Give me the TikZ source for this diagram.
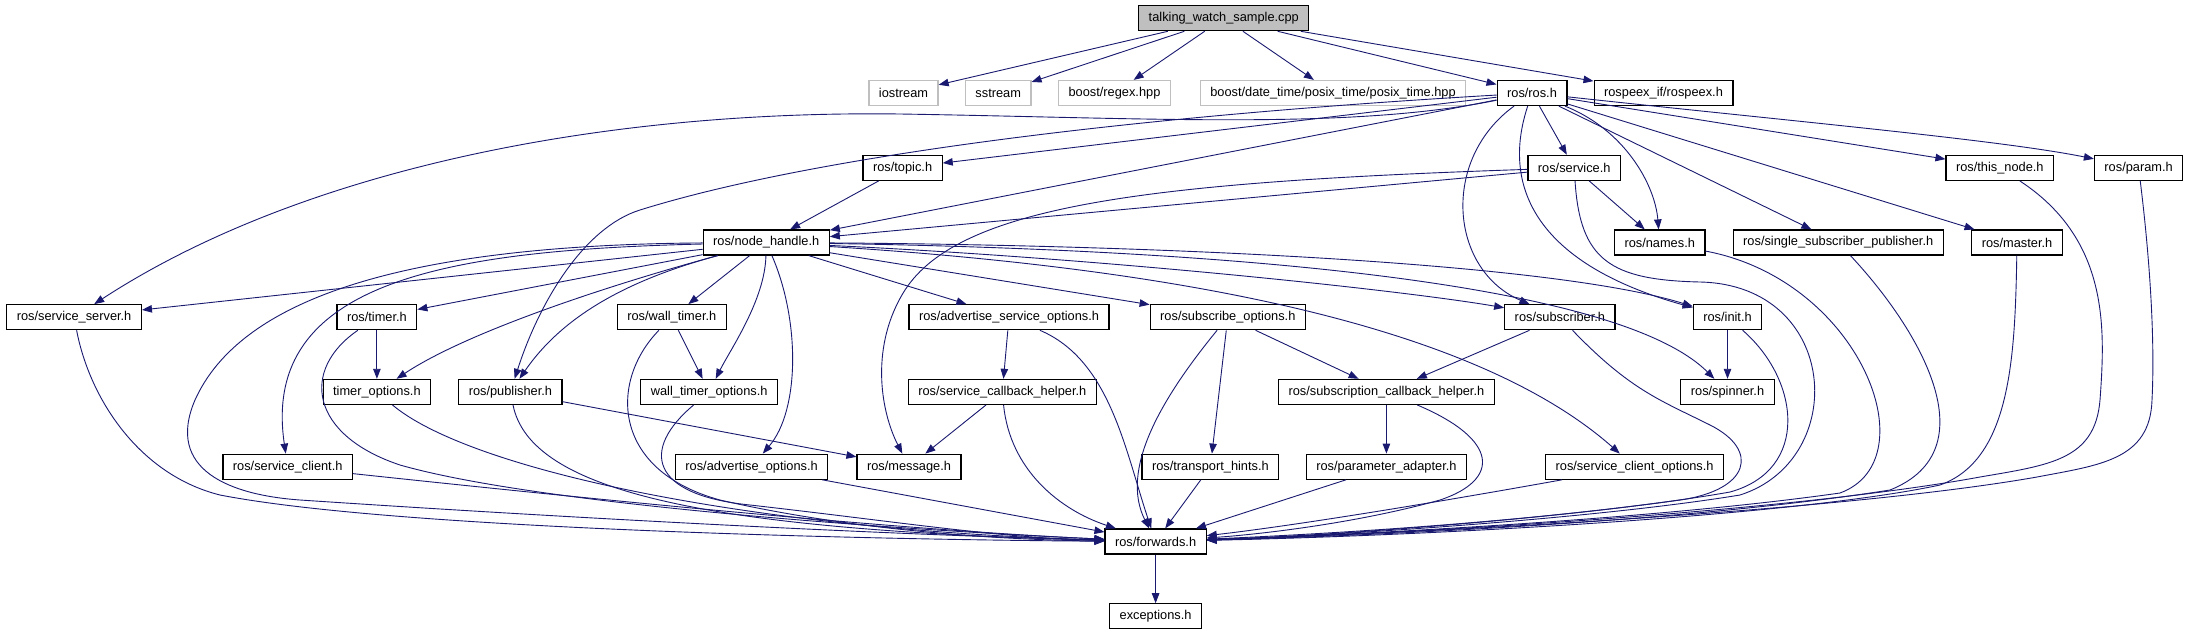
\documentclass[tikz,border=0pt]{standalone}
\usepackage{fontspec}
\newfontfamily\dotfont{Liberation Sans}
\usepackage{tikz}
\usetikzlibrary{arrows.meta}
\definecolor{edgeblue}{HTML}{191970}
\definecolor{grey75}{HTML}{BFBFBF}

\begin{document}
\begin{tikzpicture}[x=1pt,y=-1pt]
\tikzstyle{file}=[draw=black,line width=1.2pt,fill=white,minimum height=25pt,inner xsep=10pt,inner ysep=0pt,font=\dotfont\fontsize{12.8}{14}\selectfont]
\tikzstyle{extfile}=[file,draw=grey75]
\tikzstyle{rootfile}=[file,fill=grey75]
\tikzstyle{inc}=[draw=edgeblue,line width=0.9pt,-{Triangle[length=10pt,width=7.5pt]}]
\useasboundingbox (0,0) rectangle (2189,635);

\node[rootfile] (src) at (1223.8,18.2) {talking\_watch\_sample.cpp};
\node[extfile] (iostream) at (903.5,93) {iostream};
\node[extfile] (sstream) at (998.2,93) {sstream};
\node[extfile] (regex) at (1114.5,93) {boost/regex.hpp};
\node[extfile] (posixtime) at (1333,93) {boost/date\_time/posix\_time/posix\_time.hpp};
\node[file] (ros) at (1532,93) {ros/ros.h};
\node[file] (rospeex) at (1663.5,93) {rospeex\_if/rospeex.h};
\node[file] (topic) at (902.6,167.8) {ros/topic.h};
\node[file] (service) at (1574.2,167.8) {ros/service.h};
\node[file] (thisnode) at (1999.8,167.8) {ros/this\_node.h};
\node[file] (param) at (2138.6,167.8) {ros/param.h};
\node[file] (nodehandle) at (766.2,242.5) {ros/node\_handle.h};
\node[file] (names) at (1659.7,242.5) {ros/names.h};
\node[file] (sspub) at (1838.2,242.5) {ros/single\_subscriber\_publisher.h};
\node[file] (master) at (2017,242.5) {ros/master.h};
\node[file] (srvserver) at (74.1,317.2) {ros/service\_server.h};
\node[file] (timer) at (376.9,317.2) {ros/timer.h};
\node[file] (walltimer) at (671.8,317.2) {ros/wall\_timer.h};
\node[file] (adsrvopts) at (1009,317.2) {ros/advertise\_service\_options.h};
\node[file] (subopts) at (1227.8,317.2) {ros/subscribe\_options.h};
\node[file] (subscriber) at (1559.9,317.2) {ros/subscriber.h};
\node[file] (init) at (1727.5,317.2) {ros/init.h};
\node[file] (timeropts) at (376.9,391.9) {timer\_options.h};
\node[file] (publisher) at (510.4,391.9) {ros/publisher.h};
\node[file] (wtopts) at (709.2,391.9) {wall\_timer\_options.h};
\node[file] (srvcbhelper) at (1002.3,391.9) {ros/service\_callback\_helper.h};
\node[file] (subcbhelper) at (1386.4,391.9) {ros/subscription\_callback\_helper.h};
\node[file] (spinner) at (1727.5,391.9) {ros/spinner.h};
\node[file] (srvclient) at (287.7,466.7) {ros/service\_client.h};
\node[file] (adopts) at (751.6,466.7) {ros/advertise\_options.h};
\node[file] (message) at (909,466.7) {ros/message.h};
\node[file] (transport) at (1210.4,466.7) {ros/transport\_hints.h};
\node[file] (paramadapter) at (1386.4,466.7) {ros/parameter\_adapter.h};
\node[file] (srvclientopts) at (1634.6,466.7) {ros/service\_client\_options.h};
\node[file] (forwards) at (1155.6,541.5) {ros/forwards.h};
\node[file] (exceptions) at (1155.6,616.3) {exceptions.h};

\draw[inc] (src) -- (iostream);
\draw[inc] (src) -- (sstream);
\draw[inc] (src) -- (regex);
\draw[inc] (src) -- (posixtime);
\draw[inc] (src) -- (ros);
\draw[inc] (src) -- (rospeex);

\draw[inc] (ros) .. controls (1350,130) and (1150,118) .. (900,114) .. controls (600,110) and (300,170) .. (srvserver);
\draw[inc] (ros) -- (topic);
\draw[inc] (ros) -- (nodehandle);
\draw[inc] (ros) .. controls (1100,118) and (800,160) .. (640,210) .. controls (585,227) and (540,300) .. (publisher);
\draw[inc] (ros) -- (service);
\draw[inc] (ros) .. controls (1625,130) and (1655,185) .. (names);
\draw[inc] (ros) .. controls (1440,160) and (1450,270) .. (subscriber);
\draw[inc] (ros) .. controls (1500,190) and (1540,265) .. (init);
\draw[inc] (ros) -- (sspub);
\draw[inc] (ros) -- (master);
\draw[inc] (ros) -- (thisnode);
\draw[inc] (ros) .. controls (1800,122) and (2000,140) .. (param);

\draw[inc] (topic) -- (nodehandle);
\draw[inc] (service) -- (nodehandle);
\draw[inc] (service) -- (names);
\draw[inc] (service) .. controls (1150,182) and (960,205) .. (905,290) .. controls (870,345) and (880,410) .. (message);
\draw[inc] (service) .. controls (1580,260) and (1610,280) .. (1700,282) .. controls (1840,285) and (1850,460) .. (1740,495) .. controls (1600,518) and (1350,535) .. (forwards);

\draw[inc] (nodehandle) -- (srvserver);
\draw[inc] (nodehandle) -- (timer);
\draw[inc] (nodehandle) .. controls (620,282) and (470,330) .. (timeropts);
\draw[inc] (nodehandle) .. controls (620,282) and (560,320) .. (publisher);
\draw[inc] (nodehandle) -- (walltimer);
\draw[inc] (nodehandle) .. controls (765,300) and (730,350) .. (wtopts);
\draw[inc] (nodehandle) .. controls (800,320) and (800,410) .. (adopts);
\draw[inc] (nodehandle) .. controls (450,250) and (260,280) .. (srvclient);
\draw[inc] (nodehandle) -- (adsrvopts);
\draw[inc] (nodehandle) -- (subopts);
\draw[inc] (nodehandle) .. controls (1100,258) and (1400,290) .. (subscriber);
\draw[inc] (nodehandle) .. controls (1150,245) and (1550,262) .. (init);
\draw[inc] (nodehandle) .. controls (1250,250) and (1620,285) .. (spinner);
\draw[inc] (nodehandle) .. controls (1200,270) and (1480,330) .. (srvclientopts);
\draw[inc] (nodehandle) .. controls (400,245) and (240,300) .. (195,400) .. controls (165,470) and (230,495) .. (300,500) .. controls (600,520) and (900,535) .. (forwards);

\draw[inc] (timer) -- (timeropts);
\draw[inc] (walltimer) -- (wtopts);
\draw[inc] (adsrvopts) -- (srvcbhelper);
\draw[inc] (subopts) -- (transport);
\draw[inc] (subopts) -- (subcbhelper);
\draw[inc] (subscriber) -- (subcbhelper);
\draw[inc] (init) -- (spinner);
\draw[inc] (publisher) -- (message);
\draw[inc] (srvcbhelper) -- (message);
\draw[inc] (subcbhelper) -- (paramadapter);

\draw[inc] (srvserver) .. controls (90,400) and (140,475) .. (220,495) .. controls (400,530) and (900,540) .. (forwards);
\draw[inc] (srvclient) .. controls (600,500) and (900,530) .. (forwards);
\draw[inc] (timer) .. controls (300,370) and (310,435) .. (400,465) .. controls (540,505) and (900,530) .. (forwards);
\draw[inc] (timeropts) .. controls (470,470) and (750,530) .. (forwards);
\draw[inc] (publisher) .. controls (530,490) and (700,530) .. (forwards);
\draw[inc] (walltimer) .. controls (610,380) and (610,470) .. (720,500) .. controls (850,530) and (1000,540) .. (forwards);
\draw[inc] (wtopts) .. controls (640,450) and (650,495) .. (750,505) .. controls (900,522) and (1000,538) .. (forwards);
\draw[inc] (adopts) -- (forwards);
\draw[inc] (adsrvopts) .. controls (1110,360) and (1125,450) .. (forwards);
\draw[inc] (srvcbhelper) .. controls (1010,470) and (1060,510) .. (forwards);
\draw[inc] (subopts) .. controls (1160,400) and (1120,470) .. (forwards);
\draw[inc] (transport) -- (forwards);
\draw[inc] (paramadapter) -- (forwards);
\draw[inc] (subcbhelper) .. controls (1500,440) and (1500,480) .. (1440,500) .. controls (1350,525) and (1250,535) .. (forwards);
\draw[inc] (srvclientopts) .. controls (1450,500) and (1300,525) .. (forwards);
\draw[inc] (subscriber) .. controls (1630,390) and (1660,400) .. (1710,425) .. controls (1760,450) and (1750,490) .. (1680,500) .. controls (1500,525) and (1300,535) .. (forwards);
\draw[inc] (init) .. controls (1800,380) and (1810,470) .. (1730,492) .. controls (1600,515) and (1350,535) .. (forwards);
\draw[inc] (names) .. controls (1860,280) and (1930,460) .. (1840,493) .. controls (1650,520) and (1350,535) .. (forwards);
\draw[inc] (sspub) .. controls (1920,330) and (1990,450) .. (1890,490) .. controls (1700,520) and (1400,535) .. (forwards);
\draw[inc] (master) .. controls (2015,360) and (2010,460) .. (1940,485) .. controls (1800,515) and (1450,535) .. (forwards);
\draw[inc] (thisnode) .. controls (2110,240) and (2105,330) .. (2100,400) .. controls (2095,460) and (2050,465) .. (1980,477) .. controls (1800,510) and (1450,532) .. (forwards);
\draw[inc] (param) .. controls (2150,260) and (2155,340) .. (2152,400) .. controls (2150,460) and (2100,465) .. (2037,477) .. controls (1850,510) and (1450,532) .. (forwards);

\draw[inc] (forwards) -- (exceptions);
\end{tikzpicture}
\end{document}
